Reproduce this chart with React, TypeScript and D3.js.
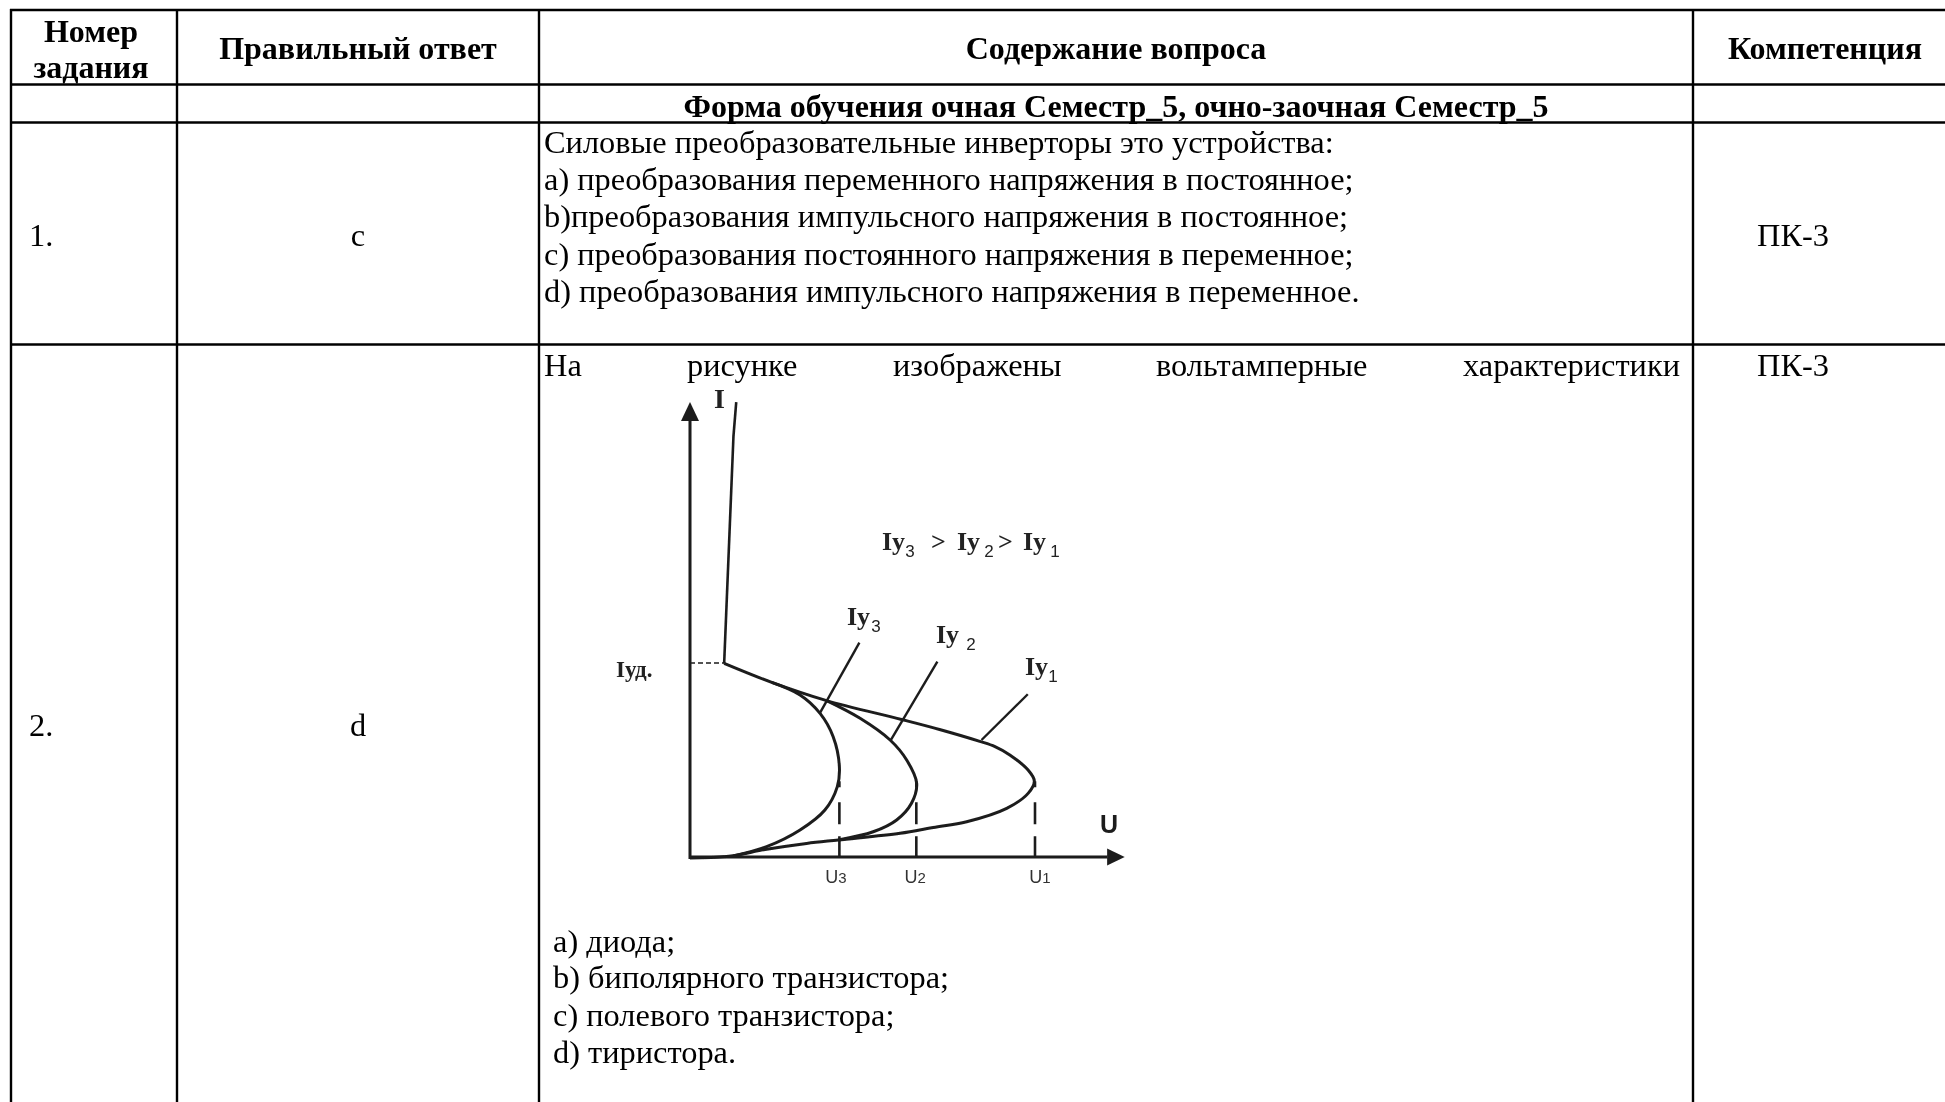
import React from "react";
import * as d3 from "d3";

// table text
const headers = ["Правильный ответ", "Содержание вопроса", "Компетенция"];
const headerFirst = ["Номер", "задания"];
const sectionTitle = "Форма обучения очная Семестр_5, очно-заочная Семестр_5";
const question1 = [
  "Силовые преобразовательные инверторы это устройства:",
  "a) преобразования переменного напряжения в постоянное;",
  "b)преобразования импульсного напряжения в постоянное;",
  "c) преобразования постоянного напряжения в переменное;",
  "d) преобразования импульсного напряжения в переменное.",
];
const question2Words = ["На", "рисунке", "изображены", "вольтамперные", "характеристики"];
const question2Options = ["a) диода;", "b) биполярного транзистора;", "c) полевого транзистора;", "d) тиристора."];
const answers = ["c", "d"];
const numbers = ["1.", "2."];
const competence = "ПК-3";

// curve readings: [U, I], U1 = 100, holding current = 100
const curve1 = [[0, -0.5], [10.6, 0.2], [22.2, 4], [33.8, 7], [43, 8.8], [60.9, 12.2], [70.5, 15.2], [80.2, 18.2], [91.8, 25.1], [98, 32.8], [99.8, 39.2], [98, 44.8], [92.7, 52.6], [88.4, 56.9], [84, 59.6], [72.6, 65.6], [61.3, 70.9], [39.6, 80.6], [23.7, 90], [9.9, 99.8]];
const curve2 = [[43, 8.8], [53.1, 13], [59.9, 19.1], [64.2, 27.7], [65.7, 38], [62.8, 50], [58, 60.3], [49.3, 71.5], [39.6, 80.6]];
const curve3 = [[12.6, 0.5], [22.2, 5.3], [31.9, 13.9], [39.1, 24.2], [42.7, 36.3], [43.3, 46.6], [41.5, 62], [37.7, 74], [31.9, 83.5], [23.7, 90]];
const steepBranch = [[9.9, 99.8], [12.6, 217], [13.4, 234.5]];
const leaders = [
  [[49.1, 110.5], [37.6, 74]],
  [[71.7, 100.7], [58.2, 60.3]],
  [[97.9, 83.9], [84.5, 60.3]],
];
const uTicks = [
  { sub: "3", u: 43.3, i: 39, labelU: 42.3 },
  { sub: "2", u: 65.6, i: 39, labelU: 65.3 },
  { sub: "1", u: 100, i: 39, labelU: 101.4 },
];

const W = 1945;
const H = 1102;
const colX = [11, 177, 539, 1693];
const rowY = [10, 84.5, 122.5, 344.5];
const serif = "'Liberation Serif', serif";
const sans = "'Liberation Sans', sans-serif";

const x = d3.scaleLinear().domain([0, 100]).range([690, 1035]);
const y = d3.scaleLinear().domain([0, 100]).range([857, 663]);
const smooth = d3.line<number[]>().x((d) => x(d[0])).y((d) => y(d[1])).curve(d3.curveCatmullRom.alpha(0.5));
const straight = d3.line<number[]>().x((d) => x(d[0])).y((d) => y(d[1]));

const ink = "#1c1c1c";

const Sub = ({ t, dx = 0 }: { t: string; dx?: number }) => (
  <tspan fontSize={17} fontWeight="normal" fontFamily={sans} dy={7} dx={dx}>{t}</tspan>
);

const App = () => {
  const wordStarts = [544, 687, 893, 1156, 1463];
  const optionY = [952, 988, 1026, 1063];
  return (
    <svg width={W} height={H} viewBox={`0 0 ${W} ${H}`} style={{ position: "fixed", left: 0, top: 0, background: "#fff" }}>
      <defs>
        <filter id="soft"><feGaussianBlur stdDeviation="0.55" /></filter>
        <filter id="softText"><feGaussianBlur stdDeviation="0.3" /></filter>
      </defs>

      {/* grid */}
      <g stroke="#000" strokeWidth={2.4}>
        {colX.map((cx) => <line key={cx} x1={cx} x2={cx} y1={rowY[0] - 1} y2={H} />)}
        {rowY.map((ry) => <line key={ry} x1={colX[0] - 1} x2={W} y1={ry} y2={ry} />)}
      </g>

      {/* table text */}
      <g fontFamily={serif} fontSize={32.4} fill="#000" filter="url(#softText)">
        <g fontWeight="bold" textAnchor="middle" fontSize={32}>
          <text x={91} y={42}>{headerFirst[0]}</text>
          <text x={91} y={78}>{headerFirst[1]}</text>
          <text x={358} y={59}>{headers[0]}</text>
          <text x={1116} y={59}>{headers[1]}</text>
          <text x={1825} y={59}>{headers[2]}</text>
          <text x={1116} y={117}>{sectionTitle}</text>
        </g>
        {question1.map((t, i) => <text key={t} x={544} y={153 + i * 37.2}>{t}</text>)}
        {question2Words.map((t, i) => <text key={t} x={wordStarts[i]} y={376}>{t}</text>)}
        {question2Options.map((t, i) => <text key={t} x={553} y={optionY[i]}>{t}</text>)}
        <text x={29} y={246}>{numbers[0]}</text>
        <text x={29} y={736}>{numbers[1]}</text>
        <text x={358} y={246} textAnchor="middle">{answers[0]}</text>
        <text x={358} y={736} textAnchor="middle">{answers[1]}</text>
        <text x={1793} y={246} textAnchor="middle">{competence}</text>
        <text x={1793} y={376} textAnchor="middle">{competence}</text>
      </g>

      {/* I-U diagram */}
      <g filter="url(#soft)">
        <g fill="none" stroke={ink}>
          <line x1={x(0)} x2={x(0)} y1={y(0) + 2} y2={y(225)} strokeWidth={3} />
          <line x1={x(0)} x2={x(121)} y1={y(0)} y2={y(0)} strokeWidth={3} />
          <path d={smooth(curve1) ?? ""} strokeWidth={3} />
          <path d={smooth(curve2) ?? ""} strokeWidth={3} />
          <path d={smooth(curve3) ?? ""} strokeWidth={3} />
          <path d={straight(steepBranch) ?? ""} strokeWidth={2.6} />
          {leaders.map((d, i) => <path key={i} d={straight(d) ?? ""} strokeWidth={2.4} />)}
          <line x1={x(0)} x2={x(9.9)} y1={y(100)} y2={y(100)} strokeWidth={1.4} strokeDasharray="5 3" />
          {uTicks.map((t) => (
            <line key={t.sub} x1={x(t.u)} x2={x(t.u)} y1={y(t.i)} y2={y(0)} strokeWidth={2.6} strokeDasharray="6 15 22 12 30" />
          ))}
        </g>
        <path d={`M${x(0) - 9},${y(224.7)} L${x(0)},${y(234.5)} L${x(0) + 9},${y(224.7)} Z`} fill={ink} />
        <path d={`M${x(120.9)},${y(0) - 8.5} L${x(126)},${y(0)} L${x(120.9)},${y(0) + 8.5} Z`} fill={ink} />

        <g fontFamily={serif} fontWeight="bold" fill="#222" fontSize={26}>
          <text x={714} y={408} fontSize={28}>I</text>
          <text x={616} y={677} fontSize={23}>Iуд.</text>
          <text x={882} y={550}>Iу<Sub t="3" /></text>
          <text x={931} y={550}>&gt;</text>
          <text x={957} y={550}>Iу<Sub t="2" dx={4} /></text>
          <text x={998} y={550}>&gt;</text>
          <text x={1023} y={550}>Iу<Sub t="1" dx={4} /></text>
          <text x={847} y={625}>Iу<Sub t="3" dx={1} /></text>
          <text x={936} y={643}>Iу<Sub t="2" dx={7} /></text>
          <text x={1025} y={675}>Iу<Sub t="1" /></text>
        </g>
        <text x={1100} y={833} fontFamily={sans} fontWeight="bold" fontSize={25} fill={ink}>U</text>
        <g fontFamily={sans} fontSize={18} fill="#333" textAnchor="middle">
          {uTicks.map((t) => (
            <text key={t.sub} x={x(t.labelU)} y={883}>U<tspan fontSize={15}>{t.sub}</tspan></text>
          ))}
        </g>
      </g>
    </svg>
  );
};

export default App;
